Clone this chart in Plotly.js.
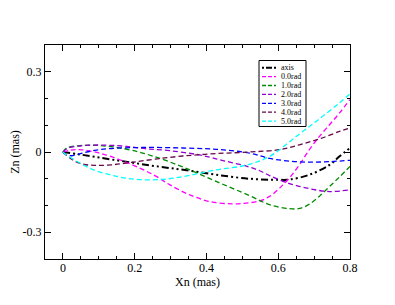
<!DOCTYPE html>
<html><head><meta charset="utf-8">
<script src="https://cdn.plot.ly/plotly-3.0.1.min.js"></script>
<style>body{margin:0;background:#fff}#c{width:395px;height:305px}</style>
</head><body><div id="c"></div>
<script>
const names = ["axis","0.0rad","1.0rad","2.0rad","3.0rad","4.0rad","5.0rad"];
const colors = ["#000000","#ff00ff","#008b00","#9400d3","#0000ff","#670748","#00ffff"];

const axisX = [0,0.042,0.088,0.135,0.19,0.242,0.297,0.353,0.427,0.52,0.6,0.631,0.687,0.743,0.771,0.80];
const axisY = [0,-0.008,-0.018,-0.028,-0.039,-0.05,-0.06,-0.07,-0.085,-0.1,-0.104,-0.103,-0.085,-0.048,-0.016,0.015];

const r0X = [0,0.02,0.047,0.102,0.158,0.214,0.26,0.297,0.353,0.409,0.474,0.511,0.548,0.576,0.604,0.631,0.659,0.687,0.715,0.743,0.771,0.80];
const r0Y = [0,0.007,0.009,-0.004,-0.029,-0.06,-0.091,-0.122,-0.16,-0.185,-0.194,-0.191,-0.183,-0.166,-0.135,-0.0975,-0.048,0.009,0.0585,0.102,0.146,0.196];

const r1X = [0,0.01,0.04,0.09,0.135,0.19,0.25,0.334,0.427,0.52,0.576,0.631,0.66,0.687,0.715,0.743,0.771,0.80];
const r1Y = [0,0.015,0.023,0.025,0.02,0.007,-0.015,-0.056,-0.11,-0.163,-0.197,-0.212,-0.211,-0.195,-0.165,-0.129,-0.093,-0.054];

const r2X = [0,0.015,0.05,0.084,0.13,0.177,0.232,0.297,0.38,0.446,0.511,0.548,0.576,0.631,0.687,0.743,0.80];
const r2Y = [0,0.015,0.023,0.026,0.025,0.021,0.012,0.005,-0.011,-0.032,-0.053,-0.07,-0.088,-0.118,-0.137,-0.148,-0.141];

const r3X = [0,0.009,0.023,0.051,0.088,0.135,0.228,0.334,0.427,0.52,0.576,0.631,0.687,0.743,0.80];
const r3Y = [0,-0.01,-0.014,-0.005,0.006,0.013,0.017,0.015,0.01,-0.004,-0.024,-0.034,-0.038,-0.036,-0.031];

const r4X = [0,0.023,0.051,0.088,0.135,0.19,0.255,0.334,0.427,0.52,0.604,0.659,0.715,0.771,0.80];
const r4Y = [0,-0.026,-0.044,-0.05,-0.048,-0.039,-0.027,-0.015,-0.006,0,0.009,0.027,0.049,0.077,0.09];

const r5X = [0,0.009,0.047,0.084,0.13,0.177,0.23,0.28,0.334,0.427,0.511,0.576,0.651,0.711,0.771,0.80];
const r5Y = [0,-0.01,-0.041,-0.066,-0.085,-0.098,-0.104,-0.102,-0.092,-0.067,-0.049,-0.0165,0.059,0.12,0.184,0.218];

const xTickVals = [0,0.2,0.4,0.6,0.8];
const xTickText = ["0","0.2","0.4","0.6","0.8"];
const yTickVals = [-0.3,0,0.3];
const yTickText = ["-0.3","0","0.3"];

const seriesX = [axisX,r0X,r1X,r2X,r3X,r4X,r5X];
const seriesY = [axisY,r0Y,r1Y,r2Y,r3Y,r4Y,r5Y];

const axisDash = "7px,3px,2px,3px,2px,3px";
const curveDash = "5px,3px";

const traces = seriesX.map((xs,i)=>({
  x: xs, y: seriesY[i], type:"scatter", mode:"lines", name:names[i],
  line:{color:colors[i], width: i===0?2:1.3, dash: i===0?axisDash:curveDash, shape:"spline", smoothing:1},
  showlegend:false, hoverinfo:"skip"
}));

// manual compact legend (paper coordinates)
const L=45, R=350, T=45, B=259;
const px2x = p => (p-L)/(R-L);
const py2y = p => (B-p)/(B-T);
const shapes = [{type:"rect", xref:"paper", yref:"paper", x0:px2x(259), x1:px2x(306), y0:py2y(60.5), y1:py2y(126.5), line:{color:"#000",width:1}, fillcolor:"#fff", layer:"above"}];
const annotations = [];
names.forEach((n,i)=>{
  const yy = 67.7 + i*8.9;
  shapes.push({type:"line", xref:"paper", yref:"paper", x0:px2x(262), x1:px2x(276), y0:py2y(yy), y1:py2y(yy),
    line:{color:colors[i], width: i===0?2:1.3, dash: i===0?"2px,2px,6px,2px":"4px,2px"}, layer:"above"});
  annotations.push({xref:"paper", yref:"paper", x:px2x(280), y:py2y(yy), xanchor:"left", yanchor:"middle",
    text:n, showarrow:false, borderpad:0, font:{family:"Liberation Serif", size:8, color:"#000"}});
});

const font = {family:"Liberation Serif", size:12, color:"#000"};
const layout = {
  width:395, height:305,
  margin:{l:L, r:395-R, t:T, b:305-B, pad:0},
  paper_bgcolor:"#fff", plot_bgcolor:"#fff",
  font: font,
  showlegend:false,
  xaxis:{range:[-0.05,0.8], tickvals:xTickVals, ticktext:xTickText, ticks:"inside", ticklen:6, tickcolor:"#000",
    showline:true, linecolor:"#000", linewidth:1, mirror:"allticks", showgrid:false, zeroline:false,
    ticklabelstandoff:-2,
    minor:{dtick:0.05, tick0:0, ticks:"inside", ticklen:3, tickcolor:"#000", showgrid:false},
    title:{text:"Xn (mas)", font:font, standoff:0}, tickfont:font},
  yaxis:{range:[-0.4,0.4], tickvals:yTickVals, ticktext:yTickText, ticks:"inside", ticklen:6, tickcolor:"#000",
    showline:true, linecolor:"#000", linewidth:1, mirror:"allticks", showgrid:false, zeroline:false,
    minor:{dtick:0.1, tick0:0, ticks:"inside", ticklen:3, tickcolor:"#000", showgrid:false},
    title:{text:"Zn (mas)", font:font, standoff:0}, tickfont:font},
  shapes: shapes,
  annotations: annotations
};
Plotly.newPlot("c", traces, layout, {staticPlot:true, displayModeBar:false});
</script></body></html>
